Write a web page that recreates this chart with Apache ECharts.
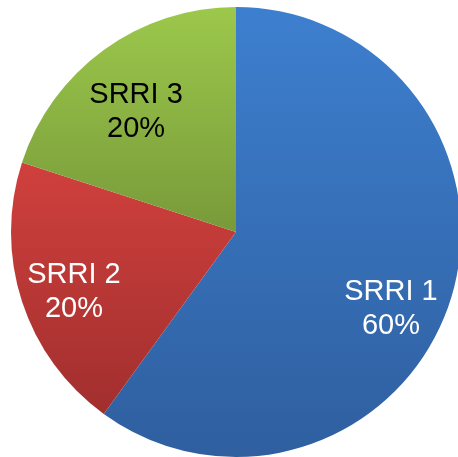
<!DOCTYPE html>
<html>
<head>
<meta charset="utf-8">
<script src="https://cdn.jsdelivr.net/npm/echarts@6/dist/echarts.min.js"></script>
<style>
  html, body { margin: 0; padding: 0; background: #fff; }
  #chart { width: 458px; height: 457px; }
</style>
</head>
<body>
<div id="chart"></div>
<script>
// slice data
var categories = ['SRRI 1', 'SRRI 2', 'SRRI 3'];
var shares = [60, 20, 20];

// styling per slice (top -> bottom gradient, label colour, label nudge)
var topColors = ['#3d7fcf', '#d0403d', '#9cc84b'];
var bottomColors = ['#2f5f9f', '#a12f2e', '#789a3a'];
var labelColors = ['#ffffff', '#ffffff', '#000000'];
var labelOffsets = [[-10, 23], [3, 6], [2, 20]];

var chart = echarts.init(document.getElementById('chart'), null, { renderer: 'canvas' });

function grad(i) {
  return new echarts.graphic.LinearGradient(0, 0, 0, 1, [
    { offset: 0, color: topColors[i] },
    { offset: 1, color: bottomColors[i] }
  ]);
}

var pieData = categories.map(function (name, i) {
  return { name: name, value: shares[i], itemStyle: { color: grad(i) } };
});

// transparent ring only used to place the labels further out
var labelData = categories.map(function (name, i) {
  return {
    name: name,
    value: shares[i],
    label: { color: labelColors[i], offset: labelOffsets[i] }
  };
});

var option = {
  backgroundColor: '#ffffff',
  animation: false,
  series: [
    {
      type: 'pie',
      center: [236, 232],
      radius: [0, 225],
      startAngle: 90,
      clockwise: true,
      silent: true,
      label: { show: false },
      labelLine: { show: false },
      itemStyle: { borderWidth: 0 },
      data: pieData
    },
    {
      type: 'pie',
      center: [236, 232],
      radius: [116, 225],
      startAngle: 90,
      clockwise: true,
      silent: true,
      itemStyle: { color: 'rgba(0,0,0,0)', borderWidth: 0 },
      label: {
        show: true,
        position: 'inside',
        fontFamily: 'Liberation Sans, Arial, sans-serif',
        fontSize: 29,
        lineHeight: 34,
        formatter: function (p) {
          return p.name + '\n' + p.value + '%';
        }
      },
      labelLine: { show: false },
      data: labelData
    }
  ]
};

chart.setOption(option);
</script>
</body>
</html>
